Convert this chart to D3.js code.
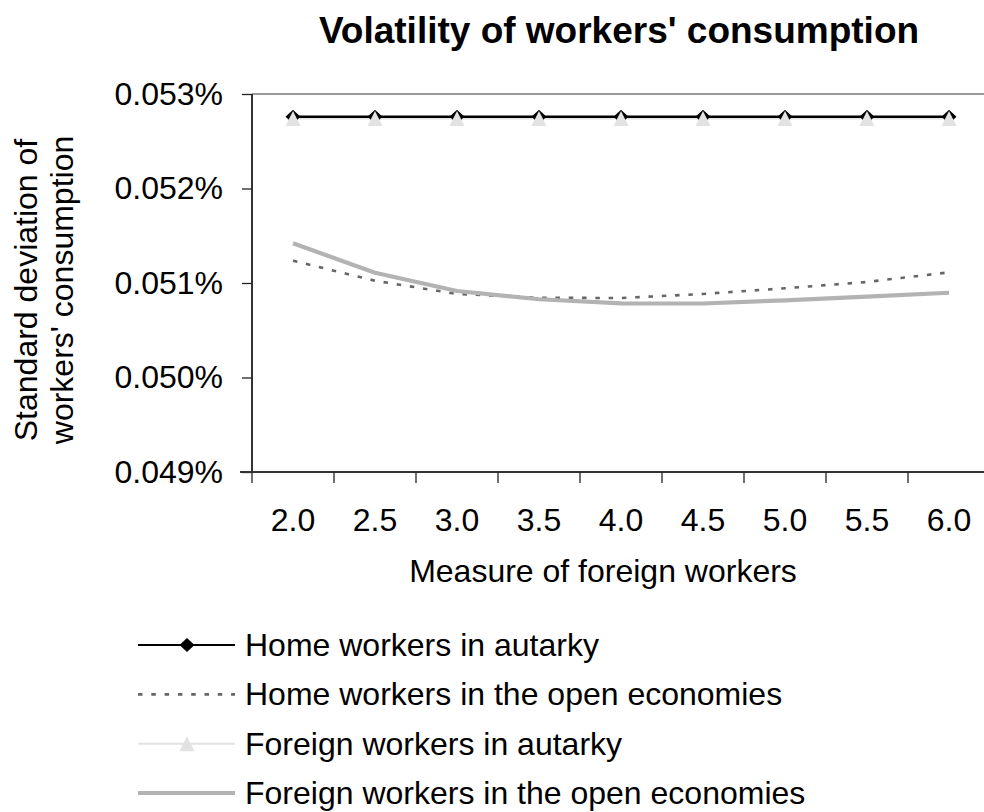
<!DOCTYPE html>
<html>
<head>
<meta charset="utf-8">
<script src="https://cdn.jsdelivr.net/npm/d3@7"></script>
<style>
  body { margin: 0; background: #fff; }
  svg { display: block; }
  text { font-family: "Liberation Sans", Arial, sans-serif; fill: #000; }
</style>
</head>
<body>
<svg id="chart" width="984" height="812"></svg>
<script>
// values (standard deviations, in percent)
const categories = ["2.0", "2.5", "3.0", "3.5", "4.0", "4.5", "5.0", "5.5", "6.0"];
const homeAutarky = [0.05276, 0.05276, 0.05276, 0.05276, 0.05276, 0.05276, 0.05276, 0.05276, 0.05276];
const homeOpen = [0.051236, 0.051024, 0.050884, 0.050844, 0.050841, 0.050884, 0.050944, 0.051011, 0.051113];
const foreignAutarky = [0.05274, 0.05274, 0.05274, 0.05274, 0.05274, 0.05274, 0.05274, 0.05274, 0.05274];
const foreignOpen = [0.051420, 0.051109, 0.050915, 0.050828, 0.050785, 0.050783, 0.050817, 0.050855, 0.050897];
const yTicks = [0.049, 0.050, 0.051, 0.052, 0.053];
const seriesNames = ["Home workers in autarky", "Home workers in the open economies",
                     "Foreign workers in autarky", "Foreign workers in the open economies"];

const svg = d3.select("#chart");
const plotLeft = 252, plotRight = 990, plotTop = 94, plotBottom = 472;

const x = d3.scaleBand().domain(categories).range([plotLeft, plotRight]);
const y = d3.scaleLinear().domain([0.049, 0.053]).range([plotBottom, plotTop]);
const cx = d => x(d) + x.bandwidth() / 2;

// title
svg.append("text")
    .attr("x", 619).attr("y", 43)
    .attr("text-anchor", "middle")
    .style("font-size", "37px").style("font-weight", "bold")
    .text("Volatility of workers' consumption");

// top border of plot area
svg.append("line")
    .attr("x1", plotLeft).attr("x2", plotRight)
    .attr("y1", plotTop).attr("y2", plotTop)
    .attr("stroke", "#999").attr("stroke-width", 2);

// y axis
const yAxis = svg.append("g")
    .attr("transform", "translate(" + plotLeft + ",0)")
    .call(d3.axisLeft(y).tickValues(yTicks).tickSize(10).tickPadding(19)
        .tickFormat(d => d3.format(".3f")(d) + "%"));
yAxis.select(".domain").attr("stroke", "#333").attr("stroke-width", 2).attr("d", "M0," + plotTop + "V" + plotBottom);
yAxis.selectAll(".tick line").attr("stroke", "#222").attr("stroke-width", 1.3);
yAxis.selectAll(".tick text").style("font-size", "32px").style("font-family", "Liberation Sans, Arial, sans-serif");

// x axis (ticks on category boundaries)
const xAxis = svg.append("g");
xAxis.append("line")
    .attr("x1", plotLeft - 12).attr("x2", plotRight)
    .attr("y1", plotBottom).attr("y2", plotBottom)
    .attr("stroke", "#333").attr("stroke-width", 2);
xAxis.selectAll("line.tk")
    .data(categories.map(c => x(c)).concat([x.range()[1]]))
    .enter().append("line")
    .attr("class", "tk")
    .attr("x1", d => d).attr("x2", d => d)
    .attr("y1", plotBottom).attr("y2", plotBottom + 11)
    .attr("stroke", "#222").attr("stroke-width", 1.3);
xAxis.selectAll("text")
    .data(categories)
    .enter().append("text")
    .attr("x", d => cx(d)).attr("y", 531)
    .attr("text-anchor", "middle")
    .style("font-size", "32px")
    .text(d => d);

svg.append("text")
    .attr("x", 603).attr("y", 582)
    .attr("text-anchor", "middle")
    .style("font-size", "32px")
    .text("Measure of foreign workers");

// y axis title
const yTitle = svg.append("text")
    .attr("transform", "translate(37,290) rotate(-90)")
    .attr("text-anchor", "middle")
    .style("font-size", "32px");
yTitle.append("tspan").attr("x", 0).attr("y", 0).text("Standard deviation of");
yTitle.append("tspan").attr("x", 0).attr("y", 36).text("workers' consumption");

// lines
const line = d3.line().x((d, i) => cx(categories[i])).y(d => y(d));

svg.append("path").datum(foreignAutarky).attr("d", line)
    .attr("fill", "none").attr("stroke", "#e2e2e2").attr("stroke-width", 2);
svg.append("path").datum(homeAutarky).attr("d", line)
    .attr("fill", "none").attr("stroke", "#000").attr("stroke-width", 2.6);
svg.append("path").datum(homeOpen).attr("d", line)
    .attr("fill", "none").attr("stroke", "#666").attr("stroke-width", 2.6)
    .attr("stroke-dasharray", "4.5,8.8");
svg.append("path").datum(foreignOpen).attr("d", line)
    .attr("fill", "none").attr("stroke", "#b3b3b3").attr("stroke-width", 4.2)
    .attr("stroke-linejoin", "round");

const diamond = "M0,-7L7.5,0L0,7L-7.5,0Z";
const triangle = "M0,-7.5L7.5,7.5L-7.5,7.5Z";

svg.selectAll("path.dia")
    .data(homeAutarky)
    .enter().append("path")
    .attr("class", "dia")
    .attr("d", diamond)
    .attr("transform", (d, i) => "translate(" + cx(categories[i]) + "," + y(d) + ")")
    .attr("fill", "#000");
svg.selectAll("path.tri")
    .data(foreignAutarky)
    .enter().append("path")
    .attr("class", "tri")
    .attr("d", triangle)
    .attr("transform", (d, i) => "translate(" + cx(categories[i]) + "," + y(d) + ")")
    .attr("fill", "#e2e2e2");

// legend
const legendY = d3.scalePoint().domain(seriesNames).range([645, 793]);
const styles = [
    {stroke: "#000", width: 2, dash: null, marker: diamond, fill: "#000"},
    {stroke: "#666", width: 2.6, dash: "4.5,8.8", marker: null},
    {stroke: "#e2e2e2", width: 2, dash: null, marker: triangle, fill: "#e2e2e2"},
    {stroke: "#b3b3b3", width: 4.2, dash: null, marker: null}
];
const legend = svg.append("g");
const rows = legend.selectAll("g")
    .data(seriesNames)
    .enter().append("g")
    .attr("transform", d => "translate(0," + legendY(d) + ")");
rows.append("line")
    .attr("x1", 138).attr("x2", 235)
    .attr("stroke", (d, i) => styles[i].stroke)
    .attr("stroke-width", (d, i) => styles[i].width)
    .attr("stroke-dasharray", (d, i) => styles[i].dash);
rows.filter((d, i) => styles[i].marker)
    .append("path")
    .attr("d", d => styles[seriesNames.indexOf(d)].marker)
    .attr("transform", "translate(187,0)")
    .attr("fill", d => styles[seriesNames.indexOf(d)].fill);
rows.append("text")
    .attr("x", 245).attr("y", 11)
    .style("font-size", "32px")
    .text(d => d);
</script>
</body>
</html>
